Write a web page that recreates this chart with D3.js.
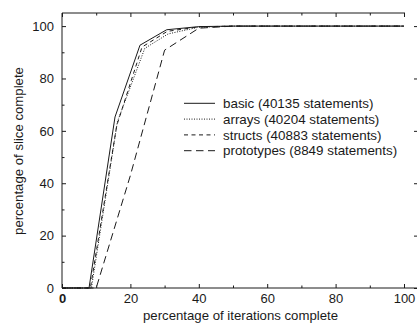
<!DOCTYPE html>
<html>
<head>
<meta charset="utf-8">
<script src="https://cdn.jsdelivr.net/npm/d3@7"></script>
<style>
  body { margin: 0; background: #fff; }
  svg { display: block; font-family: "Liberation Sans", Arial, sans-serif; }
</style>
</head>
<body>
<svg width="417" height="324"></svg>
<script>
// series: x = percentage of iterations, y = percentage of slice
const basicX = [0, 7.9, 15.5, 22.8, 30.6, 40, 50, 60, 70, 80, 90, 100];
const basicY = [0, 0, 65.3, 92.7, 98.6, 99.8, 100, 100, 100, 100, 100, 100];
const arraysX = [0, 8.6, 16.2, 24.2, 31, 40, 50, 60, 70, 80, 90, 100];
const arraysY = [0, 0, 63.5, 91.5, 97, 99.6, 100, 100, 100, 100, 100, 100];
const structsX = [0, 8.3, 16, 23.4, 30.8, 40, 50, 60, 70, 80, 90, 100];
const structsY = [0, 0, 62, 92, 98, 99.7, 100, 100, 100, 100, 100, 100];
const protoX = [0, 10, 20, 30, 40, 50, 60, 70, 80, 90, 100];
const protoY = [0, 0, 43, 90.8, 99.2, 100, 100, 100, 100, 100, 100];

const legendLabels = [
    "basic (40135 statements)",
    "arrays (40204 statements)",
    "structs (40883 statements)",
    "prototypes (8849 statements)"
];
const xTicks = [0, 20, 40, 60, 80, 100];
const yTicks = [0, 20, 40, 60, 80, 100];
const xMinor = [10, 30, 50, 70, 90];
const yMinor = [10, 30, 50, 70, 90];

const series = [
    { name: legendLabels[0], xs: basicX, ys: basicY, dash: null },
    { name: legendLabels[1], xs: arraysX, ys: arraysY, dash: "1,1.5" },
    { name: legendLabels[2], xs: structsX, ys: structsY, dash: "4,3.5" },
    { name: legendLabels[3], xs: protoX, ys: protoY, dash: "7.5,4.5" }
];

const svg = d3.select("svg");
const ink = "#1a1a1a";

const x = d3.scaleLinear().domain([0, 100]).range([62, 404]);
const y = d3.scaleLinear().domain([0, 105]).range([288, 13]);

// frame (left, top, bottom)
const frame = svg.append("g").attr("stroke", ink).attr("stroke-width", 1).attr("fill", "none");
frame.append("line").attr("x1", x(0)).attr("x2", x(0)).attr("y1", y(0)).attr("y2", y(105));
frame.append("line").attr("x1", x(0)).attr("x2", x(100) + 1).attr("y1", y(105)).attr("y2", y(105));
frame.append("line").attr("x1", x(0)).attr("x2", 417).attr("y1", y(0)).attr("y2", y(0));

// bottom axis
const xAxis = svg.append("g")
    .attr("transform", `translate(0,${y(0)})`)
    .call(d3.axisBottom(x).tickValues(xTicks).tickSize(-4).tickPadding(5.5).tickFormat(d3.format("d")));
xAxis.select(".domain").remove();
xAxis.selectAll("text").attr("font-size", 13).attr("fill", ink).attr("font-family", null)
    .attr("font-weight", d => d === 0 ? "bold" : null);
svg.append("g").attr("transform", `translate(0,${y(0)})`)
    .call(d3.axisBottom(x).tickValues(xMinor).tickSize(-2.5).tickFormat(""))
    .select(".domain").remove();

// top ticks
const xTop = svg.append("g").attr("transform", `translate(0,${y(105)})`)
    .call(d3.axisTop(x).tickValues(xTicks).tickSize(-4).tickFormat(""));
xTop.select(".domain").remove();
svg.append("g").attr("transform", `translate(0,${y(105)})`)
    .call(d3.axisTop(x).tickValues(xMinor).tickSize(-2.5).tickFormat(""))
    .select(".domain").remove();

// left axis
const yAxis = svg.append("g")
    .attr("transform", `translate(${x(0)},0)`)
    .call(d3.axisLeft(y).tickValues(yTicks).tickSize(-4).tickPadding(8).tickFormat(d3.format("d")));
yAxis.select(".domain").remove();
yAxis.selectAll("text").attr("font-size", 13).attr("fill", ink).attr("font-family", null);
svg.append("g").attr("transform", `translate(${x(0)},0)`)
    .call(d3.axisLeft(y).tickValues(yMinor).tickSize(-2.5).tickFormat(""))
    .select(".domain").remove();

// right ticks (border itself falls outside the picture)
const yRight = svg.append("g").attr("transform", "translate(417,0)")
    .call(d3.axisRight(y).tickValues(yTicks).tickSize(-3).tickFormat(""));
yRight.select(".domain").remove();

svg.selectAll(".tick line").attr("stroke", ink);

// lines
const line = d3.line()
    .x(d => x(d[0]))
    .y(d => y(d[1]));

svg.append("g")
    .selectAll("path")
    .data(series)
    .join("path")
    .attr("d", s => line(s.xs.map((v, i) => [v, s.ys[i]])))
    .attr("fill", "none")
    .attr("stroke", ink)
    .attr("stroke-width", 1)
    .attr("stroke-dasharray", s => s.dash);

// legend
const legend = svg.append("g");
const row = legend.selectAll("g")
    .data(series)
    .join("g")
    .attr("transform", (s, i) => `translate(0,${103.3 + i * 15.8})`);
row.append("line")
    .attr("x1", 184).attr("x2", 215)
    .attr("stroke", ink)
    .attr("stroke-dasharray", s => s.dash);
row.append("text")
    .attr("x", 223)
    .attr("dy", "0.35em")
    .attr("font-size", 13.4)
    .attr("fill", ink)
    .text(s => s.name);

// axis titles
svg.append("text")
    .attr("x", 240.5).attr("y", 320)
    .attr("text-anchor", "middle")
    .attr("font-size", 13.2)
    .attr("fill", ink)
    .text("percentage of iterations complete");

svg.append("text")
    .attr("transform", "translate(23,151) rotate(-90)")
    .attr("text-anchor", "middle")
    .attr("font-size", 13.2)
    .attr("fill", ink)
    .text("percentage of slice complete");
</script>
</body>
</html>
